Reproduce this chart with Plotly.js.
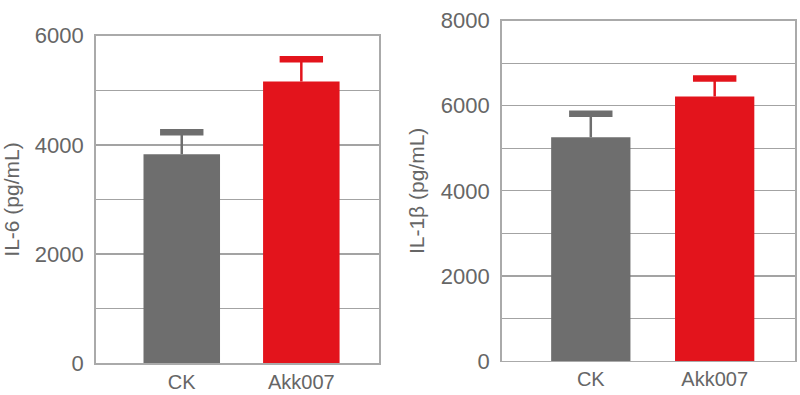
<!DOCTYPE html>
<html>
<head>
<meta charset="utf-8">
<script src="https://cdn.plot.ly/plotly-3.0.1.min.js"></script>
<style>html,body{margin:0;padding:0;background:#fff;}#chart{width:800px;height:395px;}</style>
</head>
<body>
<div id="chart"></div>
<script>
var categories = ["CK", "Akk007"];
var il6Values = [3830, 5160];
var il6Errors = [400, 410];
var il1bValues = [5260, 6220];
var il1bErrors = [550, 420];
var barColors = ["#6e6e6e", "#e3141c"];
var yTitles = ["IL-6 (pg/mL)", "IL-1β (pg/mL)"];

var FONT = "Liberation Sans, Arial, sans-serif";
var TXT = "#666666";

function barTraces(vals, errs, xa, ya) {
  var out = [];
  for (var i = 0; i < categories.length; i++) {
    out.push({
      type: "bar", x: [categories[i]], y: [vals[i]], xaxis: xa, yaxis: ya,
      width: 0.64,
      marker: {color: barColors[i], line: {width: 0}},
      error_y: {type: "data", array: [errs[i]], arrayminus: [0], symmetric: false, visible: true,
                thickness: 2.5, width: 0, color: barColors[i]},
      showlegend: false, hoverinfo: "skip"
    });
  }
  var capY = vals.map(function (v, i) { return v + errs[i]; });
  out.push({
    type: "scatter", mode: "markers", x: categories, y: capY, xaxis: xa, yaxis: ya,
    marker: {symbol: "line-ew", size: 31, color: barColors, line: {width: 6.5, color: barColors}},
    showlegend: false, hoverinfo: "skip", cliponaxis: false
  });
  return out;
}

var data = barTraces(il6Values, il6Errors, "x", "y").concat(barTraces(il1bValues, il1bErrors, "x2", "y2"));

function xaxis(dom, anchor) {
  return {
    domain: dom, anchor: anchor, range: [-0.72, 1.65], type: "category",
    categoryorder: "array", categoryarray: categories,
    showline: true, mirror: true, linecolor: "#aaaaaa", linewidth: 1.5,
    showgrid: false, zeroline: false, ticks: "",
    tickfont: {family: FONT, size: 20, color: TXT}, fixedrange: true
  };
}
function yaxis(dom, anchor, maxv, title) {
  return {
    domain: dom, anchor: anchor, range: [0, maxv], dtick: 2000, tick0: 0,
    showline: true, mirror: true, linecolor: "#aaaaaa", linewidth: 1.5,
    showgrid: true, gridcolor: "#a3a3a3", gridwidth: 1.3, zeroline: false,
    minor: {dtick: 1000, showgrid: true, gridcolor: "#a3a3a3", gridwidth: 1.3, ticks: ""},
    ticks: "", ticklabelstandoff: 6,
    tickfont: {family: FONT, size: 22, color: TXT},
    title: {text: title, font: {family: FONT, size: 21, color: TXT}, standoff: 10},
    fixedrange: true
  };
}

var layout = {
  width: 800, height: 395,
  margin: {l: 0, r: 0, t: 0, b: 0},
  paper_bgcolor: "#ffffff", plot_bgcolor: "#ffffff",
  showlegend: false,
  xaxis: xaxis([0.1196, 0.4738], "y"),
  yaxis: yaxis([0.0803, 0.9096], "x", 6000, yTitles[0]),
  xaxis2: xaxis([0.627, 0.994], "y2"),
  yaxis2: yaxis([0.0861, 0.9476], "x2", 8000, yTitles[1])
};

Plotly.newPlot("chart", data, layout, {displayModeBar: false, staticPlot: true});
</script>
</body>
</html>
